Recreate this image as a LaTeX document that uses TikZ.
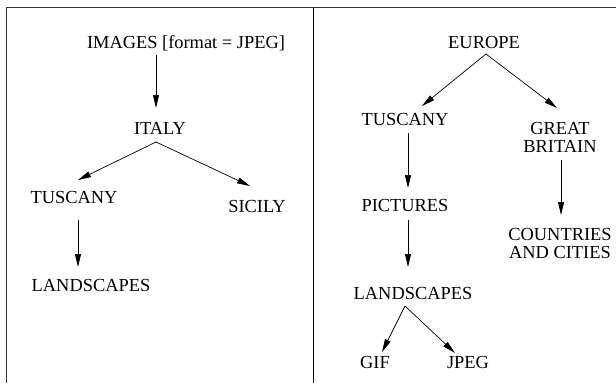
\documentclass[tikz,border=0pt]{standalone}
\usepackage{fontspec}
\setmainfont{Liberation Serif}
\usetikzlibrary{arrows.meta,calc}
\tikzset{
  lbl/.style={inner sep=0pt, font=\fontsize{18.4}{18}\selectfont, text height=12.2pt, text depth=0pt},
  lbltwo/.style={inner sep=0pt, font=\fontsize{18.4}{18}\selectfont, align=center},
  arr/.style={line width=0.7pt, -{Triangle[length=13pt,width=6pt]}},
  frame/.style={line width=1.3pt, draw=black!80}
}
\begin{document}
\begin{tikzpicture}[x=1pt,y=-1pt]
\useasboundingbox (0,0) rectangle (616,383);
% frame
\draw[frame] (6.5,383) -- (6.5,7.5) -- (616,7.5);
\draw[line width=1.2pt] (313.5,7.5) -- (313.5,383);
% left tree
\node[lbl] (images) at (186,42) {IMAGES [format = JPEG]};
\node[lbl] (italy) at (160,128) {ITALY};
\node[lbl] (ltusc) at (74,197) {TUSCANY};
\node[lbl] (sicily) at (257,206) {SICILY};
\node[lbl] (lland) at (91,285) {LANDSCAPES};
% right tree
\node[lbl] (europe) at (484,42) {EUROPE};
\node[lbl] (rtusc) at (405,119) {TUSCANY};
\node[lbltwo] (gb) at (560,137) {GREAT\\BRITAIN};
\node[lbl] (pict) at (405,205) {PICTURES};
\node[lbl] (rland) at (413,293) {LANDSCAPES};
\node[lbltwo] (cc) at (560,243) {COUNTRIES\\AND CITIES};
\node[lbl] (gif) at (375,362) {GIF};
\node[lbl] (jpeg) at (468,362) {JPEG};
% arrows
\draw[arr] ($(images)+(-30,13)$) -- ($(italy)+(-4,-20)$);
\draw[arr] ($(italy)+(-4,14)$) -- ($(ltusc)+(4,-17)$);
\draw[arr] ($(italy)+(-4,14)$) -- ($(sicily)+(-7,-20)$);
\draw[arr] ($(ltusc)+(4,23)$) -- ($(lland)+(-13,-18)$);
\draw[arr] ($(europe)+(2,12)$) -- ($(rtusc)+(17,-13)$);
\draw[arr] ($(europe)+(2,12)$) -- ($(gb)+(-3,-29)$);
\draw[arr] ($(rtusc)+(3,14)$) -- ($(pict)+(3,-17)$);
\draw[arr] ($(gb)+(1,23)$) -- ($(cc)+(1,-28)$);
\draw[arr] ($(pict)+(3,15)$) -- ($(rland)+(-5,-26)$);
\draw[arr] ($(rland)+(-8,13)$) -- ($(gif)+(7,-10)$);
\draw[arr] ($(rland)+(-8,13)$) -- ($(jpeg)+(-13,-9)$);
\end{tikzpicture}
\end{document}
